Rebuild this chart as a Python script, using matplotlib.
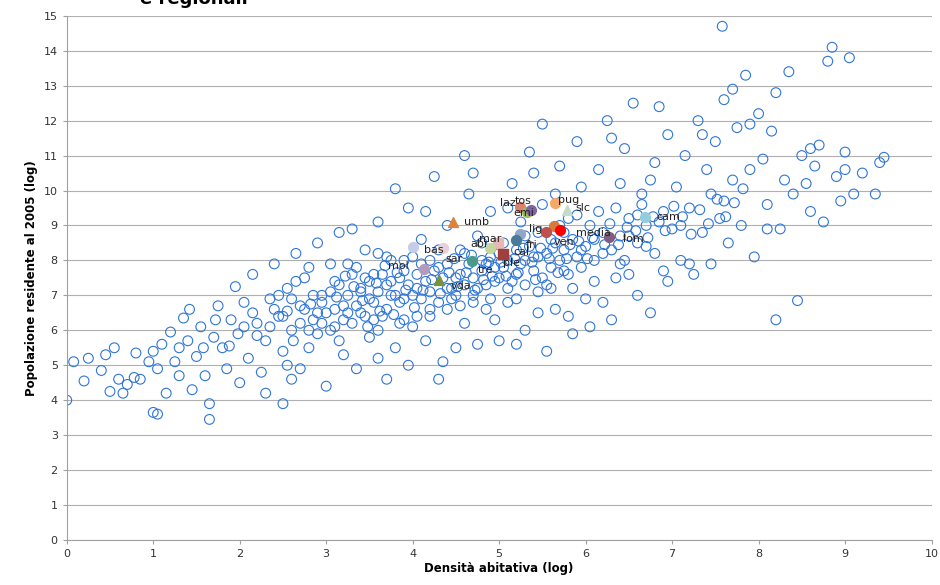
import matplotlib.pyplot as plt

# comuni: (log densita, log popolazione)
comuni = [
    (0.0,4.0),(0.08,5.1),(0.2,4.55),(0.25,5.2),(0.4,4.85),(0.45,5.3),(0.5,4.25),(0.55,5.5),(0.6,4.6),(0.65,4.2),
    (0.7,4.45),(0.78,4.65),(0.8,5.35),(0.85,4.6),(0.95,5.1),(1.0,3.65),(1.05,3.6),(1.0,5.4),(1.05,4.9),(1.1,5.6),(1.15,4.2),
    (1.2,5.95),(1.25,5.1),(1.3,4.7),(1.35,6.35),(1.4,5.7),(1.45,4.3),(1.5,5.25),(1.55,6.1),(1.6,4.7),(1.65,3.45),(1.65,3.9),
    (1.7,5.8),(1.75,6.7),(1.8,5.5),(1.85,4.9),(1.9,6.3),(1.95,7.25),(2.0,4.5),(1.98,5.9),(1.72,6.3),(1.58,5.5),(1.3,5.5),(1.42,6.6),
    (2.05,6.8),(2.1,5.2),(2.15,7.6),(2.2,6.2),(2.25,4.8),(2.3,5.7),(2.35,6.9),(2.4,7.9),(2.45,6.4),(2.5,3.9),(2.5,5.4),(2.55,7.2),
    (2.6,6.0),(2.65,8.2),(2.7,4.9),(2.7,6.7),(2.75,7.5),(2.8,5.5),(2.85,6.3),(2.9,8.5),(2.95,7.0),(3.0,4.4),(2.9,5.9),(2.3,4.2),
    (2.6,4.6),(2.15,6.5),(2.4,6.6),(2.8,7.8),(2.55,5.0),
    (3.05,6.0),(3.1,7.4),(3.15,8.8),(3.2,5.3),(3.2,6.7),(3.25,7.9),(3.3,6.2),(3.35,4.9),(3.4,7.1),(3.45,8.3),(3.5,5.8),(3.5,6.9),
    (3.55,7.6),(3.6,9.1),(3.65,6.4),(3.7,4.6),(3.7,7.3),(3.75,8.0),(3.8,5.5),(3.85,6.8),(3.9,7.7),(3.95,9.5),(4.0,6.1),(3.8,10.05),
    (3.6,5.2),(3.3,8.9),(3.05,7.9),(3.4,6.5),(3.15,5.7),(3.6,6.0),(3.9,6.3),(3.75,7.0),(3.45,7.5),(3.95,5.0),
    (4.05,7.2),(4.1,8.6),(4.15,5.7),(4.2,6.6),(4.25,10.4),(4.3,7.8),(4.35,5.1),(4.4,9.0),(4.45,6.9),(4.5,7.5),(4.55,8.3),(4.6,6.2),
    (4.65,9.9),(4.7,7.0),(4.75,5.6),(4.8,8.0),(4.85,6.6),(4.9,9.4),(4.95,7.4),(5.0,5.7),(4.6,11.0),(4.3,4.6),(4.5,5.5),(4.7,10.5),
    (4.2,8.0),(4.4,7.2),(4.85,7.9),(4.15,9.4),(4.75,8.7),(4.95,6.3),(4.05,6.4),(4.55,6.7),
    (5.05,8.5),(5.1,6.8),(5.15,10.2),(5.2,7.6),(5.25,9.1),(5.3,6.0),(5.35,11.1),(5.4,8.1),(5.45,7.1),(5.5,11.9),(5.5,9.6),(5.55,5.4),
    (5.6,8.6),(5.65,6.6),(5.7,10.7),(5.75,7.7),(5.8,9.2),(5.85,5.9),(5.9,11.4),(5.95,8.3),(6.0,6.9),(5.2,5.6),(5.4,10.5),(5.6,7.2),
    (5.8,6.4),(5.3,8.0),(5.1,9.5),(5.65,9.9),(5.95,10.1),(5.45,6.5),(5.75,8.8),
    (6.05,9.0),(6.1,7.4),(6.15,10.6),(6.2,8.2),(6.25,12.0),(6.3,6.3),(6.35,9.5),(6.4,7.9),(6.45,11.2),(6.5,8.7),(6.55,12.5),(6.6,7.0),
    (6.65,9.9),(6.7,8.4),(6.75,6.5),(6.8,10.8),(6.85,9.1),(6.9,7.7),(6.95,11.6),(7.0,8.9),(6.2,6.8),(6.4,10.2),(6.6,9.3),(6.85,12.4),
    (6.1,8.6),(6.3,11.5),(6.75,10.3),(6.5,7.6),(6.95,7.4),(6.05,6.1),
    (7.05,10.1),(7.1,8.0),(7.15,11.0),(7.2,9.5),(7.25,7.6),(7.3,12.0),(7.35,8.8),(7.4,10.6),(7.45,7.9),(7.5,11.4),(7.55,9.2),(7.58,14.7),
    (7.6,12.6),(7.65,8.5),(7.7,10.3),(7.75,11.8),(7.8,9.0),(7.85,13.3),(7.9,10.6),(7.95,8.1),(8.0,12.2),(7.2,7.9),(7.45,9.9),(7.7,12.9),
    (7.35,11.6),(7.9,11.9),(7.6,9.7),(7.1,9.0),
    (8.05,10.9),(8.1,9.6),(8.15,11.7),(8.2,6.3),(8.2,12.8),(8.25,8.9),(8.3,10.3),(8.35,13.4),(8.4,9.9),(8.45,6.85),(8.5,11.0),(8.55,10.2),
    (8.6,9.4),(8.65,10.7),(8.7,11.3),(8.75,9.1),(8.8,13.7),(8.85,14.1),(8.9,10.4),(8.95,9.7),(9.0,10.6),(9.05,13.8),(9.1,9.9),(9.2,10.5),
    (9.35,9.9),(9.4,10.8),(9.45,10.95),(8.1,8.9),(8.6,11.2),(9.0,11.1),
    # dense core
    (2.5,6.4),(2.6,6.9),(2.7,6.2),(2.75,6.6),(2.85,7.0),(2.9,6.5),(2.95,6.8),(2.65,7.4),(2.8,6.0),
    (3.0,6.5),(3.05,7.1),(3.1,6.6),(3.15,7.3),(3.2,6.3),(3.25,7.0),(3.3,7.6),(3.35,6.7),(3.4,7.2),(3.45,6.4),(3.5,7.4),(3.1,6.1),(3.25,6.5),(3.35,7.8),
    (3.55,6.8),(3.6,7.1),(3.65,7.6),(3.7,6.6),(3.75,7.4),(3.8,7.0),(3.85,7.5),(3.9,6.9),(3.95,7.3),(3.55,6.3),(3.7,8.1),(3.85,6.2),(3.6,8.2),(3.9,8.0),
    (4.0,7.0),(4.05,7.6),(4.1,6.9),(4.15,7.4),(4.2,7.1),(4.25,7.7),(4.3,6.8),(4.35,7.5),(4.4,7.9),(4.45,7.2),(4.5,7.0),(4.0,8.1),(4.2,6.4),(4.4,6.6),(4.1,7.9),(4.3,8.3),
    (4.55,7.6),(4.6,7.3),(4.65,7.9),(4.7,7.5),(4.75,7.2),(4.8,7.7),(4.85,7.3),(4.9,8.1),(4.95,7.8),(5.0,7.5),(4.6,8.2),(4.7,6.8),(4.8,8.5),(4.9,6.9),(5.0,8.2),
    (5.05,7.8),(5.1,8.0),(5.15,7.4),(5.2,8.3),(5.25,7.9),(5.3,7.3),(5.35,8.4),(5.4,7.7),(5.45,8.1),(5.5,7.5),(5.1,7.2),(5.3,8.7),(5.45,8.8),(5.2,6.9),
    (5.55,8.2),(5.6,7.8),(5.65,8.5),(5.7,8.0),(5.75,8.3),(5.8,7.6),(5.85,8.6),(5.9,8.1),(5.95,7.8),(5.55,7.3),(5.7,9.0),(5.85,7.2),(5.9,9.3),
    (6.0,8.4),(6.1,8.0),(6.2,8.8),(6.3,8.3),(6.4,8.7),(6.5,9.2),(6.6,8.5),(6.7,9.0),(6.8,8.2),(6.9,9.4),(6.15,9.4),(6.45,8.0),(6.65,9.6),(6.35,7.5),
    (2.35,6.1),(2.45,7.0),(2.55,6.55),(2.95,6.2),(2.62,5.7),(2.82,6.75),(3.12,6.95),(3.22,7.55),(3.42,6.85),(3.48,6.1),(3.32,7.25),
    (3.62,6.55),(3.68,7.85),(3.78,6.45),(3.82,7.65),(3.92,7.15),(3.58,7.35),(4.02,6.65),(4.12,7.15),(4.22,7.45),(4.32,7.05),(4.42,7.65),
    (4.48,8.05),(4.52,7.25),(4.62,7.65),(4.68,8.15),(4.72,7.15),(4.82,7.45),(4.88,7.95),(4.92,7.55),(5.02,7.95),(5.08,7.55),(5.18,8.05),
    (5.22,7.65),(5.28,8.35),(5.38,7.95),(5.42,7.45),(5.48,8.35),(5.58,8.05),(5.62,8.35),(5.68,7.65),(5.78,8.05),(5.82,8.45),(5.92,8.55),
    (6.02,8.05),(6.08,8.65),(6.22,8.45),(6.28,9.05),(6.38,8.45),(6.48,8.95),(6.58,8.85),(6.72,8.65),(6.78,9.25),(6.92,8.85),(7.02,9.55),
    (7.12,9.25),(7.22,8.75),(7.32,9.45),(7.42,9.05),(7.52,9.75),(7.62,9.25),(7.72,9.65),(7.82,10.05),(2.2,5.85),(2.05,6.1),(1.88,5.55),
]
comuni_x = [p[0] for p in comuni]
comuni_y = [p[1] for p in comuni]

# regional averages
regioni = ['laz', 'emi', 'tos', 'pug', 'slc', 'ven', 'media', 'lig', 'fri', 'cal', 'cam', 'lom',
           'umb', 'bas', 'sar', 'mar', 'abr', 'ple', 'tre', 'mol', 'vda']
reg_x = [5.24, 5.32, 5.37, 5.65, 5.79, 5.63, 5.70, 5.54, 5.24, 5.20, 6.69, 6.27,
         4.47, 4.00, 4.35, 4.99, 4.89, 5.04, 4.69, 4.13, 4.31]
reg_y = [9.53, 9.39, 9.45, 9.65, 9.45, 8.99, 8.87, 8.82, 8.76, 8.59, 9.25, 8.68,
         9.10, 8.39, 8.36, 8.50, 8.36, 8.19, 7.99, 7.76, 7.44]
reg_marker = ['o', 'o', 'o', 'o', '^', 'o', 'o', 'o', 'o', 'o', 'o', 'o',
              '^', 'o', 'o', 's', 'o', 's', 'o', 'o', '^']
reg_color = ['#d9826e', '#9bbb59', '#8064a2', '#f5a86a', '#c3dcc8', '#d97a3a', '#ff0000', '#c0504d', '#8fa8c8',
             '#4a7a9a', '#93cddd', '#7f5f7f', '#e0823c', '#c6cde8', '#e8d0d8', '#e6b9b8', '#c3d69b', '#a0403c',
             '#4b9b8c', '#b39bc0', '#77933c']
# label offsets in points
lab_dx = [-14, -10, -12, 2, 6, 0, 12, -12, 4, -2, 8, 10, 8, 8, 2, -14, -14, 0, 4, -26, 8]
lab_dy = [3, -1, 6, 2, 1, -12, -2, 2, -8, -9, 0, -2, 0, -2, -8, 3, 3, -7, -7, 2, -4]

fig, ax = plt.subplots(figsize=(9.4, 5.85), dpi=100)
fig.subplots_adjust(left=0.071, right=0.991, bottom=0.077, top=0.973)

ax.scatter(comuni_x, comuni_y, s=50, facecolors='none', edgecolors='#2f76d8', linewidths=0.8, zorder=2)

for name, x, y, m, c, dx, dy in zip(regioni, reg_x, reg_y, reg_marker, reg_color, lab_dx, lab_dy):
    ax.scatter([x], [y], s=50, marker=m, color=c, zorder=3)
    ax.annotate(name, (x, y), xytext=(dx, dy), textcoords='offset points', fontsize=8,
                color='#222222', va='center', zorder=4)

ax.set_xlim(0, 10)
ax.set_ylim(0, 15)
ax.set_xticks(range(0, 11))
ax.set_yticks(range(0, 16))
ax.yaxis.grid(True, color='#b0b0b0', linewidth=0.8)
ax.set_axisbelow(True)
for s in ['top', 'right']:
    ax.spines[s].set_visible(False)
for s in ['left', 'bottom']:
    ax.spines[s].set_color('#a0a0a0')
ax.tick_params(labelsize=8, colors='#333333', length=3)
ax.tick_params(axis='both', color='#a0a0a0')
ax.set_xlabel('Densità abitativa (log)', fontsize=8.5, fontweight='bold', labelpad=2)
ax.set_ylabel('Popolazione residente al 2005 (log)', fontsize=8.5, fontweight='bold', labelpad=4)

# title is cut at the top edge in the reference
fig.text(0.149, 0.994, 'e regionali', fontsize=13, fontweight='bold', va='baseline')

fig.savefig('out.png', dpi=100)
